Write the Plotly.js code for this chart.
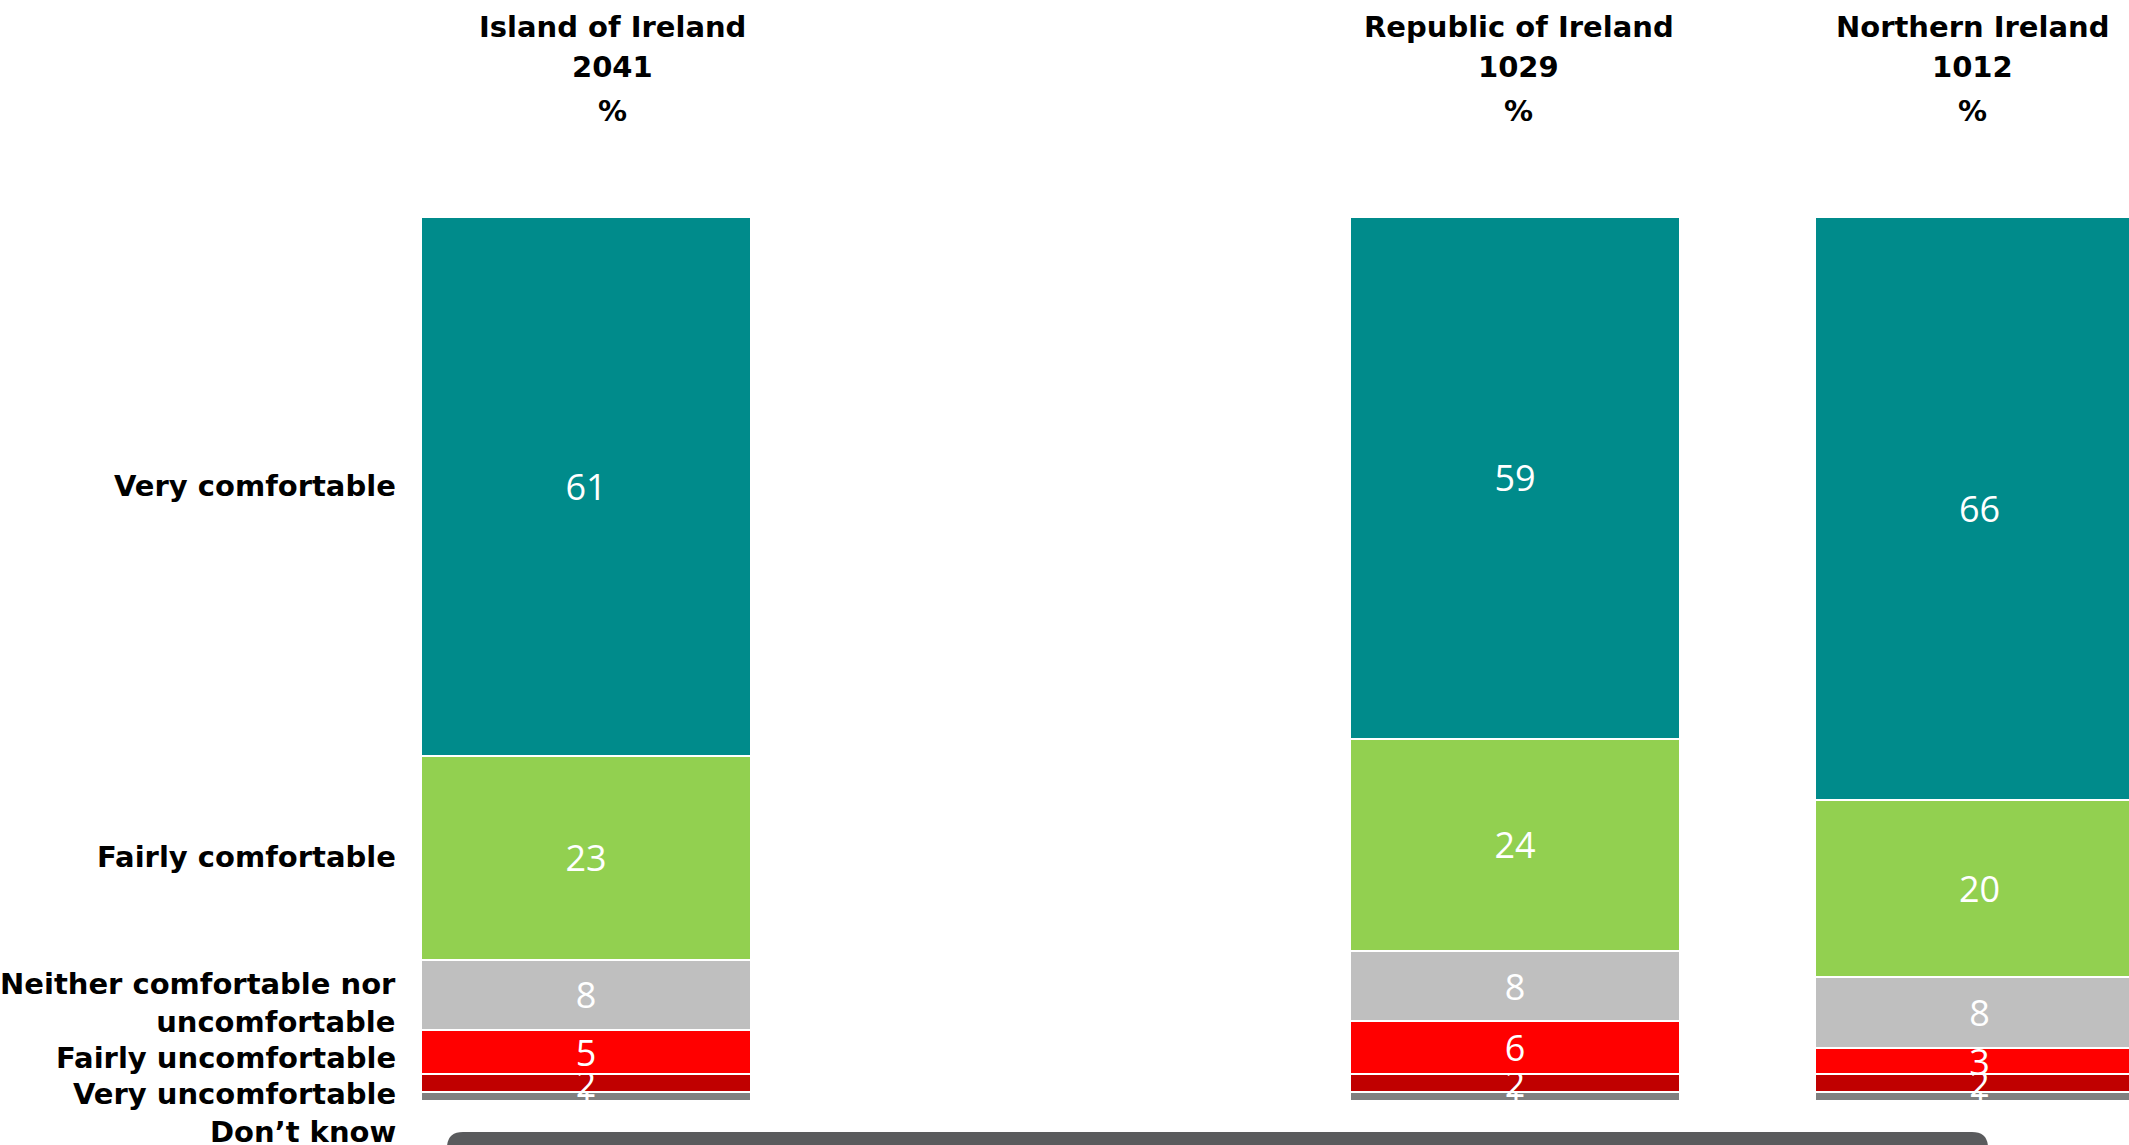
<!DOCTYPE html>
<html>
<head>
<meta charset="utf-8">
<script src="https://cdn.plot.ly/plotly-3.0.1.min.js"></script>
<style>html,body{margin:0;padding:0;background:#fff;}#chart{width:2129px;height:1145px;}</style>
</head>
<body>
<div id="chart"></div>
<script>
// ---- data ----
const groups = ["Island of Ireland", "Republic of Ireland", "Northern Ireland"];
const sampleSizes = [2041, 1029, 1012];
const categoryOrder = ["Island of Ireland", "gap", "Republic of Ireland", "Northern Ireland"];

const responses = ["Don\u2019t know", "Very uncomfortable", "Fairly uncomfortable",
                   "Neither comfortable nor<br>uncomfortable", "Fairly comfortable", "Very comfortable"];
const dontKnow            = [1, 1, 1];
const veryUncomfortable   = [2, 2, 2];
const fairlyUncomfortable = [5, 6, 3];
const neither             = [8, 8, 8];
const fairlyComfortable   = [23, 24, 20];
const veryComfortable     = [61, 59, 66];

const seriesValues = [dontKnow, veryUncomfortable, fairlyUncomfortable, neither, fairlyComfortable, veryComfortable];
const seriesColors = ["#808080", "#C00000", "#FF0000", "#BFBFBF", "#92D050", "#008B8B"];

// ---- layout helpers ----
const W = 2129, H = 1145;
const px = (x) => x / W;
const py = (y) => 1 - y / H;

const traces = seriesValues.map((vals, i) => ({
  type: "bar",
  name: responses[i],
  x: groups,
  y: vals,
  width: 0.71,
  marker: { color: seriesColors[i], line: { color: "#FFFFFF", width: 2 } },
  text: vals.map(String),
  textposition: "inside",
  insidetextanchor: "middle",
  constraintext: "none",
  textangle: 0,
  textfont: { family: "Open Sans, sans-serif", size: 36, color: "#FFFFFF" },
  hoverinfo: "skip",
  cliponaxis: false
}));

const annotations = [];
// column headers
const headerShift = [26, 4, -7];
groups.forEach((g, i) => {
  const lines = [g, String(sampleSizes[i]), "%"];
  const ys = [27, 67, 111];
  lines.forEach((t, j) => {
    annotations.push({
      text: "<b>" + t + "</b>", xref: "x", yref: "paper", x: g, y: py(ys[j]),
      xshift: headerShift[i], xanchor: "center", yanchor: "middle", showarrow: false,
      font: { family: "DejaVu Sans", size: 29, color: "#000000" }
    });
  });
});
// row labels (right aligned)
const rowLabelY = [1132, 1094, 1058, 1003, 857, 486];
responses.forEach((r, i) => {
  annotations.push({
    text: "<b>" + r + "</b>", xref: "paper", yref: "paper", x: px(398), y: py(rowLabelY[i]),
    xanchor: "right", yanchor: "middle", align: "right", showarrow: false,
    font: { family: "DejaVu Sans", size: 29, color: "#000000" }
  });
});

const x0 = px(447), x1 = px(1988), r = 16;
const yTop = py(1132), yBot = py(1160), yCorner = py(1132 + r);
const shapePath = `M ${x0},${yBot} L ${x0},${yCorner} Q ${x0},${yTop} ${px(447 + r)},${yTop} ` +
                  `L ${px(1988 - r)},${yTop} Q ${x1},${yTop} ${x1},${yCorner} L ${x1},${yBot} Z`;

const layout = {
  width: W, height: H,
  margin: { l: 0, r: 0, t: 0, b: 0, pad: 0 },
  paper_bgcolor: "#FFFFFF", plot_bgcolor: "#FFFFFF",
  barmode: "stack",
  showlegend: false,
  xaxis: { type: "category", categoryorder: "array", categoryarray: categoryOrder,
           range: [-1.2616, 3.3219], visible: false, fixedrange: true },
  yaxis: { range: [-4.98, 124.55], visible: false, fixedrange: true },
  annotations: annotations,
  shapes: [{ type: "path", xref: "paper", yref: "paper", path: shapePath,
             fillcolor: "#5A5B5D", line: { width: 0 }, layer: "above" }]
};

Plotly.newPlot("chart", traces, layout, { displayModeBar: false, staticPlot: true });
</script>
</body>
</html>
